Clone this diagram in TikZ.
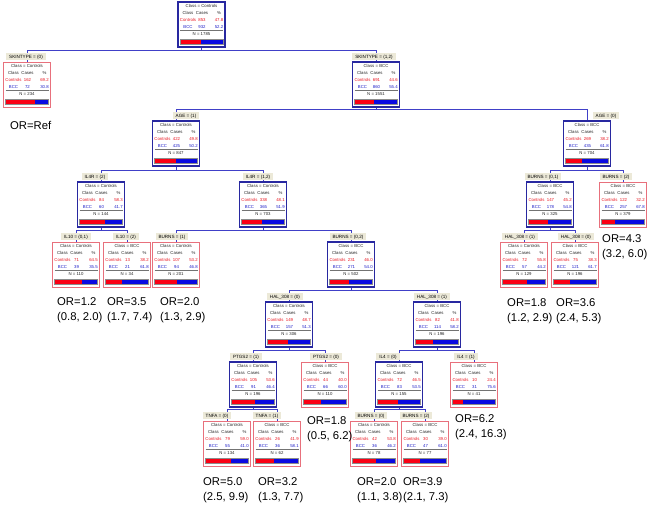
\documentclass[tikz,border=0pt]{standalone}
\usepackage{fontspec}
\setmainfont{Liberation Sans}
\definecolor{connblue}{RGB}{64,64,200}
\definecolor{intborder}{RGB}{40,40,160}
\definecolor{leafborder}{RGB}{232,112,124}
\definecolor{tabfill}{RGB}{236,233,216}
\definecolor{ctrlred}{RGB}{235,20,30}
\definecolor{bccblue}{RGB}{30,30,200}
\definecolor{barred}{RGB}{250,0,20}
\definecolor{barblue}{RGB}{10,10,225}
\newcommand\TN[9]{%
  \node[box#4] (#1) at (#2,#3+22.5) {};
  \node[hd] (#1-h) at (#2,#3+4.2) {Class = #5};
  \node[hd] (#1-k1) at (#2-13.5,#3+11.2) {Class};
  \node[hd] (#1-k2) at (#2+0.5,#3+11.2) {Cases};
  \node[hd] (#1-k3) at (#2+17.5,#3+11.2) {\%};
  \node[rd] (#1-c1) at (#2-13.5,#3+18) {Controls};
  \node[rd] (#1-c2) at (#2+0.5,#3+18) {#6};
  \node[rd] (#1-c3) at (#2+17.5,#3+18) {#7};
  \node[bl] (#1-d1) at (#2-13.5,#3+25) {BCC};
  \node[bl] (#1-d2) at (#2+0.5,#3+25) {#8};
  \node[bl] (#1-d3) at (#2+17.5,#3+25) {#9};
  \draw[rulel] (#2-21.5,#3+28.6) -- (#2+21.5,#3+28.6);
  \node[hd] (#1-n) at (#2,#3+31.7) {N = \the\numexpr#6+#8\relax};
  \fill[barred] (#2-21.5,#3+37.3) rectangle (#2-21.5+0.43*#7,#3+42.3);
  \fill[barblue] (#2-21.5+0.43*#7,#3+37.3) rectangle (#2+21.5,#3+42.3);
  \draw[barframe] (#2-21.5,#3+37.3) rectangle (#2+21.5,#3+42.3);
}
\newcommand\TB[4]{\node[tabs] (#1-tab) at (#2,#3) {#4};}
\newcommand\CN[2]{%
  \path (#2.north) ++(0,-11) coordinate (#2-in);
  \draw[conn] (#1.south) |- (#2-in) -- (#2.north);
}
\newcommand\ORL[5]{%
  \node[orl] (#1-o1) at (#2,#3) {#4};
  \node[orl] (#1-o2) at (#2,#3+15) {#5};
}
\begin{document}
\begin{tikzpicture}[x=1pt,y=-1pt,
  boxint/.style={draw=intborder,line width=1.2pt,minimum width=47pt,minimum height=45pt,inner sep=0pt,fill=white},
  boxleaf/.style={draw=leafborder,line width=1pt,minimum width=47pt,minimum height=45pt,inner sep=0pt,fill=white},
  hd/.style={font=\fontsize{4.3}{4.7}\selectfont,inner sep=0pt,text height=3pt,text depth=0pt,text=black!85},
  rd/.style={hd,text=ctrlred},
  bl/.style={hd,text=bccblue},
  rulel/.style={draw=black!55,line width=0.5pt},
  barframe/.style={draw=black!45,line width=0.4pt},
  tabs/.style={fill=tabfill,font=\fontsize{4.6}{5}\selectfont,inner xsep=3pt,inner ysep=0pt,minimum height=6.5pt,text height=3.3pt,text depth=0pt},
  conn/.style={draw=connblue,line width=1pt},
  orl/.style={anchor=base west,inner sep=0pt,font=\fontsize{11.3}{13}\selectfont}
]
\useasboundingbox (0,0) rectangle (652,506);
% boxes
\TN{root}{201.5}{2}{int}{Controls}{853}{47.8}{932}{52.2}
\TN{s0}{27}{62}{leaf}{Controls}{162}{69.2}{72}{30.8}
\TN{s12}{376}{62}{int}{BCC}{691}{44.6}{860}{55.4}
\TN{a1}{176}{121}{int}{Controls}{422}{49.8}{425}{50.2}
\TN{a0}{587}{121}{int}{BCC}{269}{38.2}{435}{61.8}
\TN{i2}{101}{182}{int}{Controls}{84}{58.3}{60}{41.7}
\TN{i12}{263}{182}{int}{Controls}{338}{48.1}{365}{51.9}
\TN{b01}{550}{182}{int}{BCC}{147}{45.2}{178}{54.8}
\TN{b2}{623}{182}{leaf}{BCC}{122}{32.2}{257}{67.8}
\TN{l01}{76}{242}{leaf}{Controls}{71}{64.5}{39}{35.5}
\TN{l2}{127}{242}{leaf}{BCC}{13}{38.2}{21}{61.8}
\TN{b1}{176}{242}{leaf}{Controls}{107}{53.2}{94}{46.8}
\TN{b02}{351}{242}{int}{BCC}{231}{46.0}{271}{54.0}
\TN{h1r}{524}{242}{leaf}{Controls}{72}{55.8}{57}{44.2}
\TN{h0r}{575}{242}{leaf}{BCC}{75}{38.3}{121}{61.7}
\TN{h0m}{289}{302}{int}{Controls}{149}{48.7}{157}{51.3}
\TN{h1m}{437}{302}{int}{BCC}{82}{41.8}{114}{58.2}
\TN{p1}{253}{362}{int}{Controls}{105}{53.6}{91}{46.4}
\TN{p0}{325}{362}{leaf}{BCC}{44}{40.0}{66}{60.0}
\TN{g0}{399}{362}{int}{BCC}{72}{46.5}{83}{53.5}
\TN{g1}{474}{362}{leaf}{BCC}{10}{24.4}{31}{75.6}
\TN{t0}{227}{421}{leaf}{Controls}{79}{59.0}{55}{41.0}
\TN{t1}{277}{421}{leaf}{BCC}{26}{41.9}{36}{58.1}
\TN{u0}{374}{421}{leaf}{Controls}{42}{53.8}{36}{46.2}
\TN{u2}{425}{421}{leaf}{BCC}{30}{39.0}{47}{61.0}
% connectors
\CN{root}{s0}\CN{root}{s12}
\CN{s12}{a1}\CN{s12}{a0}
\CN{a1}{i2}\CN{a1}{i12}
\CN{a0}{b01}\CN{a0}{b2}
\CN{i2}{l01}\CN{i2}{l2}
\CN{i12}{b1}\CN{i12}{b02}
\CN{b01}{h1r}\CN{b01}{h0r}
\CN{b02}{h0m}\CN{b02}{h1m}
\CN{h0m}{p1}\CN{h0m}{p0}
\CN{h1m}{g0}\CN{h1m}{g1}
\CN{p1}{t0}\CN{p1}{t1}
\CN{g0}{u0}\CN{g0}{u2}
% tabs
\TB{s0}{26}{56.5}{SKINTYPE = (0)}
\TB{s12}{374}{56.5}{SKINTYPE = (1,2)}
\TB{a1}{186}{115.5}{AGE = (1)}
\TB{a0}{606}{115.5}{AGE = (0)}
\TB{i2}{95}{176.5}{IL4R = (2)}
\TB{i12}{258}{176.5}{IL4R = (1,2)}
\TB{b01}{543}{176.5}{BURNS = (0,1)}
\TB{b2}{616}{176.5}{BURNS = (2)}
\TB{l01}{76}{236.5}{IL10 = (0,1)}
\TB{l2}{126}{236.5}{IL10 = (2)}
\TB{b1}{172}{236.5}{BURNS = (1)}
\TB{b02}{348}{236.5}{BURNS = (0,2)}
\TB{h1r}{520}{236.5}{HAL\_308 = (1)}
\TB{h0r}{576}{236.5}{HAL\_308 = (0)}
\TB{h0m}{285}{296.5}{HAL\_308 = (0)}
\TB{h1m}{432}{296.5}{HAL\_308 = (1)}
\TB{p1}{246}{356.5}{PTGS2 = (1)}
\TB{p0}{326}{356.5}{PTGS2 = (0)}
\TB{g0}{388}{356.5}{IL4 = (0)}
\TB{g1}{466}{356.5}{IL4 = (1)}
\TB{t0}{217}{415.5}{TNFA = (0)}
\TB{t1}{267}{415.5}{TNFA = (1)}
\TB{u0}{371}{415.5}{BURNS = (0)}
\TB{u2}{416}{415.5}{BURNS = (2)}
% odds ratio labels
\node[orl] (s0-o1) at (10,129) {OR=Ref};
\ORL{l01}{57}{305}{OR=1.2}{(0.8, 2.0)}
\ORL{l2}{107}{305}{OR=3.5}{(1.7, 7.4)}
\ORL{b1}{160}{305}{OR=2.0}{(1.3, 2.9)}
\ORL{h1r}{507}{306}{OR=1.8}{(1.2, 2.9)}
\ORL{h0r}{556}{306}{OR=3.6}{(2.4, 5.3)}
\ORL{b2}{602}{242}{OR=4.3}{(3.2, 6.0)}
\ORL{p0}{307}{424}{OR=1.8}{(0.5, 6.2)}
\ORL{g1}{455}{422}{OR=6.2}{(2.4, 16.3)}
\ORL{t0}{203}{485}{OR=5.0}{(2.5, 9.9)}
\ORL{t1}{258}{485}{OR=3.2}{(1.3, 7.7)}
\ORL{u0}{357}{485}{OR=2.0}{(1.1, 3.8)}
\ORL{u2}{403}{485}{OR=3.9}{(2.1, 7.3)}
\end{tikzpicture}
\end{document}
